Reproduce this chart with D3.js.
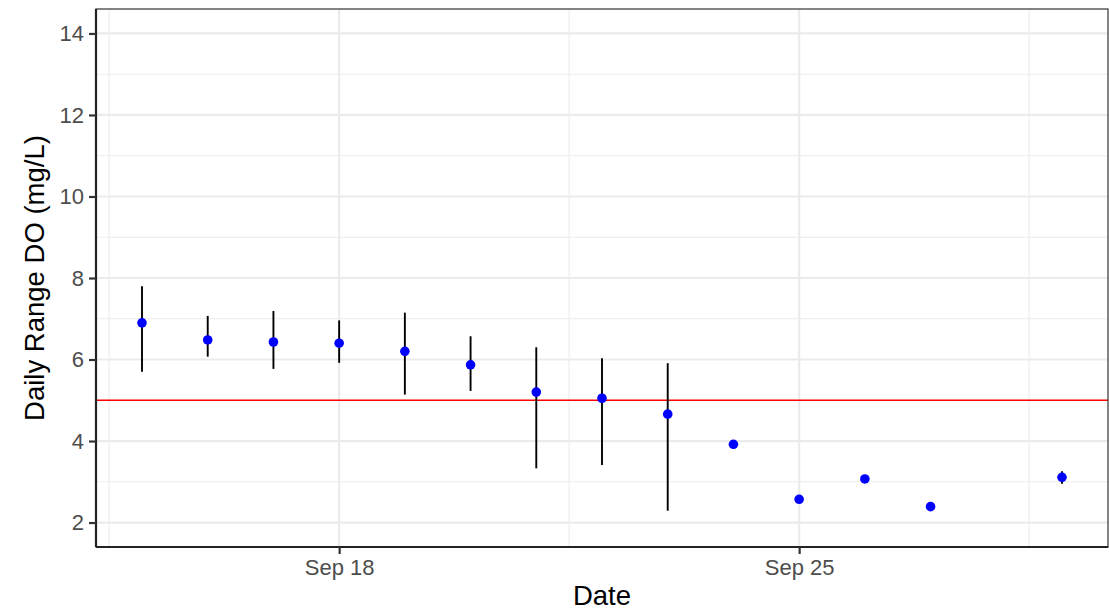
<!DOCTYPE html>
<html>
<head>
<meta charset="utf-8">
<script src="https://cdn.jsdelivr.net/npm/d3@7"></script>
<style>
  html, body { margin: 0; padding: 0; background: #fff; }
  svg { display: block; font-family: "Liberation Sans", Arial, sans-serif; }
</style>
</head>
<body>
<svg id="chart" width="1109" height="611"></svg>
<script>
// Daily range of dissolved oxygen: mean with spread per day
const dates = ["2021-09-15","2021-09-16","2021-09-17","2021-09-18","2021-09-19",
               "2021-09-20","2021-09-21","2021-09-22","2021-09-23","2021-09-24",
               "2021-09-25","2021-09-26","2021-09-27","2021-09-29"];
const meanRange = [6.90, 6.48, 6.43, 6.40, 6.20, 5.87, 5.20, 5.05, 4.66, 3.92, 2.57, 3.07, 2.39, 3.11];
const lowRange  = [5.70, 6.07, 5.77, 5.92, 5.14, 5.23, 3.33, 3.41, 2.29, null, null, null, null, 2.95];
const highRange = [7.80, 7.07, 7.19, 6.96, 7.15, 6.57, 6.30, 6.03, 5.91, null, null, null, null, 3.26];
const threshold = 5;
const yTicks = [2, 4, 6, 8, 10, 12, 14];
const yMinor = [3, 5, 7, 9, 11, 13];
const xTicks = ["2021-09-18", "2021-09-25"];
const xMinor = ["2021-09-14T12:00:00Z", "2021-09-21T12:00:00Z", "2021-09-28T12:00:00Z"];

const parse = s => new Date(s.length === 10 ? s + "T00:00:00Z" : s);
const rows = dates.map((d, i) => ({ date: parse(d), mean: meanRange[i], lo: lowRange[i], hi: highRange[i] }));

const svg = d3.select("#chart");
const panel = { left: 96, right: 1108, top: 9, bottom: 547 };

const x = d3.scaleUtc()
  .domain([parse("2021-09-14T07:12:00Z"), parse("2021-09-29T16:48:00Z")])
  .range([panel.left, panel.right]);
const y = d3.scaleLinear().domain([1.4, 14.6]).range([panel.bottom, panel.top]);

// panel background
svg.append("rect")
  .attr("x", panel.left).attr("y", panel.top)
  .attr("width", panel.right - panel.left).attr("height", panel.bottom - panel.top)
  .attr("fill", "#fff");

const grid = svg.append("g");
// minor grid
grid.selectAll(".hmin").data(yMinor).join("line")
  .attr("x1", panel.left).attr("x2", panel.right)
  .attr("y1", d => y(d)).attr("y2", d => y(d))
  .attr("stroke", "#ebebeb").attr("stroke-width", 1.1);
grid.selectAll(".vmin").data(xMinor.map(parse)).join("line")
  .attr("y1", panel.top).attr("y2", panel.bottom)
  .attr("x1", d => x(d)).attr("x2", d => x(d))
  .attr("stroke", "#ebebeb").attr("stroke-width", 1.1);
// major grid
grid.selectAll(".hmaj").data(yTicks).join("line")
  .attr("x1", panel.left).attr("x2", panel.right)
  .attr("y1", d => y(d)).attr("y2", d => y(d))
  .attr("stroke", "#ebebeb").attr("stroke-width", 2.2);
grid.selectAll(".vmaj").data(xTicks.map(parse)).join("line")
  .attr("y1", panel.top).attr("y2", panel.bottom)
  .attr("x1", d => x(d)).attr("x2", d => x(d))
  .attr("stroke", "#ebebeb").attr("stroke-width", 2.2);

// threshold line
svg.append("line")
  .attr("x1", panel.left).attr("x2", panel.right)
  .attr("y1", y(threshold)).attr("y2", y(threshold))
  .attr("stroke", "#ff0000").attr("stroke-width", 1.4);

// error bars
svg.append("g").selectAll("line").data(rows.filter(r => r.lo != null)).join("line")
  .attr("x1", d => x(d.date)).attr("x2", d => x(d.date))
  .attr("y1", d => y(d.lo)).attr("y2", d => y(d.hi))
  .attr("stroke", "#000").attr("stroke-width", 1.9);

// points
svg.append("g").selectAll("circle").data(rows).join("circle")
  .attr("cx", d => x(d.date)).attr("cy", d => y(d.mean))
  .attr("r", 4.8).attr("fill", "#0000ff");

// panel border
svg.append("rect")
  .attr("x", panel.left).attr("y", panel.top)
  .attr("width", panel.right - panel.left).attr("height", panel.bottom - panel.top)
  .attr("fill", "none").attr("stroke", "#333").attr("stroke-width", 1.2);

// axes
const yAxis = svg.append("g")
  .attr("transform", `translate(${panel.left},0)`)
  .call(d3.axisLeft(y).tickValues(yTicks).tickSize(7).tickPadding(5).tickSizeOuter(0));
const xAxis = svg.append("g")
  .attr("transform", `translate(0,${panel.bottom})`)
  .call(d3.axisBottom(x).tickValues(xTicks.map(parse)).tickFormat(d3.utcFormat("%b %d"))
        .tickSize(7).tickPadding(5).tickSizeOuter(0));

[yAxis, xAxis].forEach(g => {
  g.select(".domain").attr("stroke", "#222").attr("stroke-width", 2.2);
  g.selectAll(".tick line").attr("stroke", "#333").attr("stroke-width", 2.2);
  g.selectAll(".tick text").attr("fill", "#4d4d4d").attr("font-size", 22)
    .attr("font-family", "Liberation Sans, Arial, sans-serif");
});
yAxis.select(".domain").attr("d", `M0,${panel.top}V${panel.bottom}`);
xAxis.select(".domain").attr("d", `M${panel.left},0H${panel.right}`);

// axis titles
svg.append("text")
  .attr("x", (panel.left + panel.right) / 2).attr("y", 605)
  .attr("text-anchor", "middle").attr("font-size", 27.5).attr("fill", "#000")
  .text("Date");
svg.append("text")
  .attr("transform", `translate(44,${(panel.top + panel.bottom) / 2}) rotate(-90)`)
  .attr("text-anchor", "middle").attr("font-size", 27.5).attr("fill", "#000")
  .text("Daily Range DO (mg/L)");
</script>
</body>
</html>
